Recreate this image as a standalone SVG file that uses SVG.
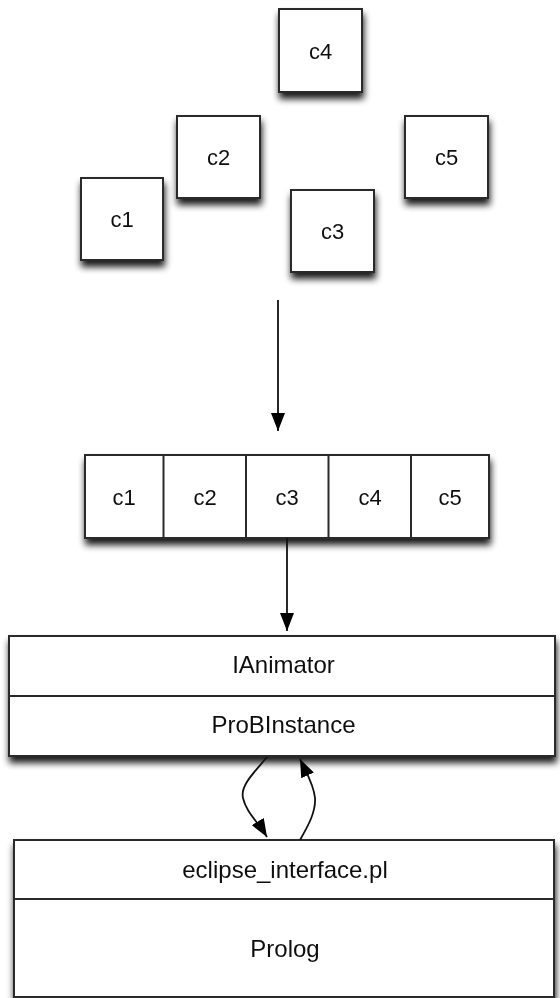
<svg xmlns="http://www.w3.org/2000/svg" width="560" height="998" viewBox="0 0 560 998">
  <style>
    .box { fill: #ffffff; stroke: #2a2a2a; stroke-width: 2; }
    .div { stroke: #2a2a2a; stroke-width: 2; fill: none; }
    .lbl { font-family: "Liberation Sans", Arial, Helvetica, sans-serif; font-size: 22px; fill: #111111; text-anchor: middle; }
    .big { font-size: 24px; }
    .edge { stroke: #111111; stroke-width: 1.8; fill: none; }
  </style>
  <defs>
    <filter id="shadow" x="-20%" y="-20%" width="140%" height="160%">
      <feGaussianBlur in="SourceAlpha" stdDeviation="3.5"/>
      <feOffset dx="1" dy="6" result="blur"/>
      <feComponentTransfer><feFuncA type="linear" slope="0.9"/></feComponentTransfer>
      <feMerge><feMergeNode/><feMergeNode in="SourceGraphic"/></feMerge>
    </filter>
    <marker id="head" viewBox="0 0 18 14" refX="18" refY="7" markerWidth="18" markerHeight="14" markerUnits="userSpaceOnUse" orient="auto">
      <path d="M0,0 L18,7 L0,14 z" fill="#000000"/>
    </marker>
  </defs>

  <!-- scattered components -->
  <g id="c4" filter="url(#shadow)">
    <rect class="box" x="279" y="9" width="83" height="83"/>
    <text class="lbl" x="320.5" y="59">c4</text>
  </g>
  <g id="c2" filter="url(#shadow)">
    <rect class="box" x="177" y="116" width="83" height="82"/>
    <text class="lbl" x="218.5" y="165">c2</text>
  </g>
  <g id="c5" filter="url(#shadow)">
    <rect class="box" x="405" y="116" width="83" height="82"/>
    <text class="lbl" x="446.5" y="165">c5</text>
  </g>
  <g id="c1" filter="url(#shadow)">
    <rect class="box" x="81" y="178" width="82" height="82"/>
    <text class="lbl" x="122" y="227">c1</text>
  </g>
  <g id="c3" filter="url(#shadow)">
    <rect class="box" x="291" y="190" width="83" height="82"/>
    <text class="lbl" x="332.5" y="239">c3</text>
  </g>

  <!-- ordered row of components -->
  <g id="row" filter="url(#shadow)">
    <rect class="box" x="85" y="455" width="404" height="83"/>
    <line class="div" x1="163.5" y1="455" x2="163.5" y2="538"/>
    <line class="div" x1="246" y1="455" x2="246" y2="538"/>
    <line class="div" x1="328.5" y1="455" x2="328.5" y2="538"/>
    <line class="div" x1="411" y1="455" x2="411" y2="538"/>
    <text class="lbl" x="124" y="505">c1</text>
    <text class="lbl" x="205" y="505">c2</text>
    <text class="lbl" x="287" y="505">c3</text>
    <text class="lbl" x="370" y="505">c4</text>
    <text class="lbl" x="450" y="505">c5</text>
  </g>

  <!-- animator layer -->
  <g id="animator" filter="url(#shadow)">
    <rect class="box" x="9" y="636" width="546" height="120"/>
    <line class="div" x1="9" y1="696" x2="555" y2="696"/>
    <text class="lbl big" x="283.5" y="673">IAnimator</text>
    <text class="lbl big" x="283.5" y="733">ProBInstance</text>
  </g>

  <!-- prolog layer -->
  <g id="prolog" filter="url(#shadow)">
    <rect class="box" x="14" y="840" width="540" height="157"/>
    <line class="div" x1="14" y1="899" x2="554" y2="899"/>
    <text class="lbl big" x="285" y="878">eclipse_interface.pl</text>
    <text class="lbl big" x="285" y="957">Prolog</text>
  </g>

  <!-- connectors -->
  <g id="connectors">
    <line class="edge" x1="278" y1="300" x2="278" y2="431" marker-end="url(#head)"/>
    <line class="edge" x1="287" y1="538" x2="287" y2="631" marker-end="url(#head)"/>
    <path class="edge" d="M267,757 C255,772 240,785 243,798 C246,812 258,822 267,837" marker-end="url(#head)"/>
    <path class="edge" d="M300,840 C308,826 316,812 315,798 C314,785 306,772 300,759" marker-end="url(#head)"/>
  </g>
</svg>
